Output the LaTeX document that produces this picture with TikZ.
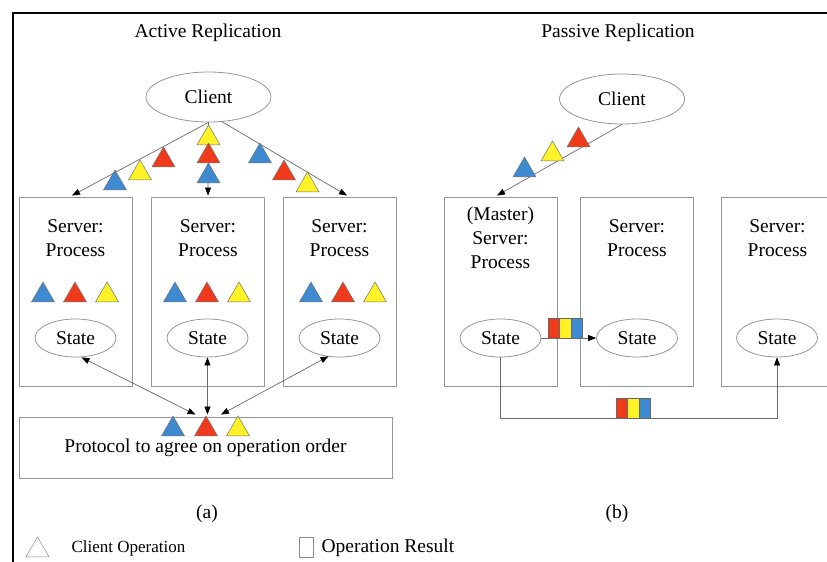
\documentclass[tikz,border=0pt]{standalone}
\usepackage{fontspec}
\setmainfont{Liberation Serif}
\usetikzlibrary{arrows.meta,shapes.geometric,calc}
\definecolor{opblue}{RGB}{62,138,208}
\definecolor{opred}{RGB}{240,58,28}
\definecolor{opyellow}{RGB}{255,242,38}
\definecolor{edgegray}{RGB}{150,150,150}
\definecolor{linkgray}{RGB}{105,105,105}
\begin{document}
\begin{tikzpicture}[x=1pt,y=-1pt,
  font=\fontsize{19.5}{24}\selectfont,
  srvbox/.style={draw=edgegray,line width=0.9pt,minimum width=113pt,minimum height=189pt,inner sep=0pt},
  oval/.style={ellipse,draw=edgegray,line width=0.8pt,inner sep=0pt},
  client/.style={oval,minimum width=125pt,minimum height=50pt},
  statenode/.style={oval,minimum width=81pt,minimum height=38pt},
  op/.style={regular polygon,regular polygon sides=3,minimum size=26.6pt,inner sep=0pt,outer sep=0pt,draw=black!55,line width=0.5pt},
  resbar/.style={rectangle,draw=black!60,line width=0.4pt,minimum width=11.3pt,minimum height=20pt,inner sep=0pt,anchor=south west},
  link/.style={draw=linkgray,line width=0.7pt},
  tip/.style={-{Triangle[length=8pt,width=6pt,color=black]}},
  tips/.style={{Triangle[length=8pt,width=6pt,color=black]}-{Triangle[length=8pt,width=6pt,color=black]}},
]
\useasboundingbox (0,0) rectangle (827,562);
% frame
\draw[line width=2pt] (13,562) -- (13,13) -- (827,13);

% ---------- (a) active replication ----------
\node (ta) at (208,33) {Active Replication};
\node[client] (ca) at (208.5,97) {Client};
\node[srvbox] (s1) at (75.5,291.5) {};
\node[srvbox] (s2) at (208,291.5) {};
\node[srvbox] (s3) at (339.5,291.5) {};
\node[align=center] (t1) at (75.5,238) {Server:\\Process};
\node[align=center] (t2) at (208,238) {Server:\\Process};
\node[align=center] (t3) at (339.5,238) {Server:\\Process};
\node[statenode] (sa1) at (75.5,338) {State};
\node[statenode] (sa2) at (207.5,338) {State};
\node[statenode] (sa3) at (339.5,338) {State};
\node[draw=edgegray,line width=0.9pt,minimum width=373pt,minimum height=61pt,inner sep=0pt] (pr) at (205.5,447.5) {};
\node (prt) at (205.5,448) {Protocol to agree on operation order};

\draw[link,tip] (ca.south) -- ($(s1.north)+(-3.5,-1)$);
\draw[link,tip] (ca.south) -- ($(s2.north)+(0,-1)$);
\draw[link,tip] ($(ca.south)+(13,-1)$) -- ($(s3.north)+(7.5,-1)$);

\draw[link,tips] ($(sa1.south)+(6,0)$) -- ($(pr.north)+(-10,-2)$);
\draw[link,tips] (sa2.south) -- ($(pr.north)+(2,-2)$);
\draw[link,tips] ($(sa3.center)+(-11,18.3)$) -- ($(pr.north)+(15.5,-2)$);

% operations in flight
\node[op,fill=opblue]   (l1) at (115,183.3) {};
\node[op,fill=opyellow] (l2) at (140,173.3) {};
\node[op,fill=opred]    (l3) at (163.5,160.3) {};
\node[op,fill=opyellow] (m1) at (208.5,138.3) {};
\node[op,fill=opred]    (m2) at (208.5,156.3) {};
\node[op,fill=opblue]   (m3) at (208.5,176.3) {};
\node[op,fill=opblue]   (r1) at (260,156.3) {};
\node[op,fill=opred]    (r2) at (284,173.3) {};
\node[op,fill=opyellow] (r3) at (307.5,185.3) {};
% operations held by each server
\node[op,fill=opblue]   (a1) at (43,295.3) {};
\node[op,fill=opred]    (a2) at (75,295.3) {};
\node[op,fill=opyellow] (a3) at (107,295.3) {};
\node[op,fill=opblue]   (b1) at (175,295.3) {};
\node[op,fill=opred]    (b2) at (207,295.3) {};
\node[op,fill=opyellow] (b3) at (239,295.3) {};
\node[op,fill=opblue]   (c1) at (311,295.3) {};
\node[op,fill=opred]    (c2) at (343,295.3) {};
\node[op,fill=opyellow] (c3) at (375,295.3) {};
% agreed order
\node[op,fill=opblue]   (o1) at (173,429.3) {};
\node[op,fill=opred]    (o2) at (206,429.3) {};
\node[op,fill=opyellow] (o3) at (238,429.3) {};

\node (la) at (207,514) {(a)};

% ---------- (b) passive replication ----------
\node (tb) at (618,33) {Passive Replication};
\node[client] (cb) at (622,99) {Client};
\node[srvbox] (p1) at (500.5,291.5) {};
\node[srvbox] (p2) at (637,291.5) {};
\node[srvbox] (p3) at (777.5,291.5) {};
\node[align=center] (u1) at (500.5,238) {(Master)\\Server:\\Process};
\node[align=center] (u2) at (637,238) {Server:\\Process};
\node[align=center] (u3) at (777.5,238) {Server:\\Process};
\node[statenode] (pm1) at (500.5,338) {State};
\node[statenode] (pm2) at (637,338) {State};
\node[statenode] (pm3) at (777,338) {State};

\draw[link,tip] (cb.south) -- ($(p1.north)+(-3.5,-1)$);
\draw[link,tip] (pm1.east) -- (pm2.west);
\draw[link,tip] (pm1.south) -- ++(0,61) -| (pm3.south);

\node[op,fill=opblue]   (q1) at (524.5,170.3) {};
\node[op,fill=opyellow] (q2) at (552.5,154.3) {};
\node[op,fill=opred]    (q3) at (578.5,140.3) {};

% results passed from the master
\node[resbar,fill=opred]    (x1) at (548,338) {};
\node[resbar,fill=opyellow] (x2) at (559.3,338) {};
\node[resbar,fill=opblue]   (x3) at (570.6,338) {};
\node[resbar,fill=opred]    (y1) at (616,418) {};
\node[resbar,fill=opyellow] (y2) at (627.3,418) {};
\node[resbar,fill=opblue]   (y3) at (638.6,418) {};

\node (lb) at (617,514) {(b)};

% ---------- legend ----------
\node[op,fill=white,draw=black!45] (k1) at (37.5,550.3) {};
\node[anchor=west,font=\fontsize{17}{20}\selectfont] (k1t) at (68,548) {Client Operation};
\node[draw=black!45,line width=0.5pt,minimum width=14pt,minimum height=20pt,inner sep=0pt] (k2) at (306,547) {};
\node[anchor=west] (k2t) at (318,548) {Operation Result};
\end{tikzpicture}
\end{document}
